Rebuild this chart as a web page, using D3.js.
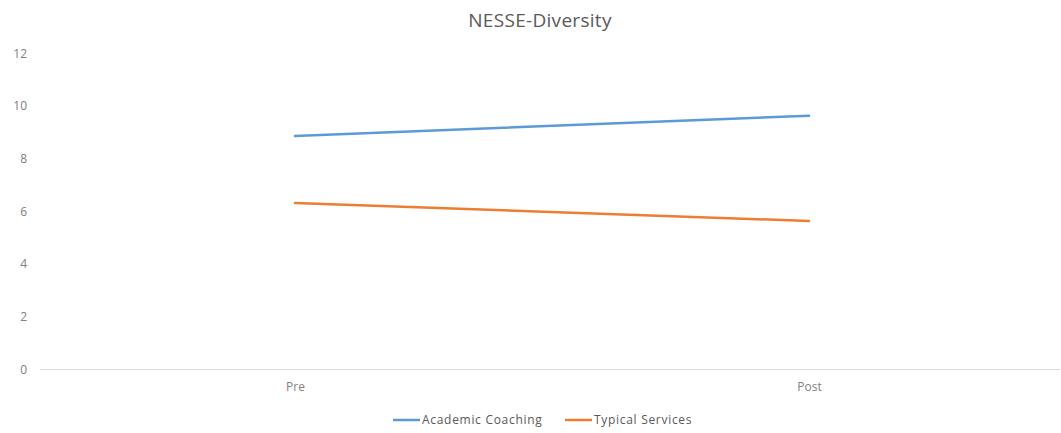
<!DOCTYPE html>
<html><head><meta charset="utf-8">
<script src="https://cdn.jsdelivr.net/npm/d3@7/dist/d3.min.js"></script>
<style>body{margin:0;background:#fff}svg{display:block}</style>
</head><body>
<svg id="c" width="1061" height="433"></svg>
<script>
const categories = ["Pre", "Post"];
const seriesNames = ["Academic Coaching", "Typical Services"];
const academicCoaching = [8.85, 9.62];
const typicalServices = [6.3, 5.62];
const yTicks = [0, 2, 4, 6, 8, 10, 12];
const title = "NESSE-Diversity";

const colors = ["#5B9BD5", "#ED7D31"];
const font = "'Open Sans', 'Liberation Sans', sans-serif";
const svg = d3.select("#c");
const x = d3.scalePoint().domain(categories).range([38, 1066]).padding(0.5);
const y = d3.scaleLinear().domain([0, 12]).range([369, 53]);

svg.append("text").attr("x", 540).attr("y", 27).attr("text-anchor", "middle")
  .attr("font-family", font).attr("font-size", 19).attr("letter-spacing", "0.3px")
  .attr("fill", "#595959").text(title);

const ya = svg.append("g").attr("transform", "translate(27,0)")
  .call(d3.axisLeft(y).tickValues(yTicks).tickSize(0).tickPadding(0));
ya.select(".domain").remove();
ya.selectAll("text").attr("font-family", font).attr("font-size", 12).attr("fill", "#808080").attr("dy", "0.35em");

const xa = svg.append("g").attr("transform", "translate(0,369)")
  .call(d3.axisBottom(x).tickSize(0).tickPadding(13));
xa.select(".domain").attr("stroke", "#d9d9d9").attr("d", "M40,0.5H1060");
xa.selectAll("text").attr("font-family", font).attr("font-size", 12).attr("fill", "#808080");

const series = [academicCoaching, typicalServices];
const line = d3.line().x((d, i) => x(categories[i])).y(d => y(d));
series.forEach((s, k) => {
  svg.append("path").datum(s).attr("d", line).attr("fill", "none")
    .attr("stroke", colors[k]).attr("stroke-width", 2.5).attr("stroke-linecap", "round");
});

const legendX = [393, 565];
seriesNames.forEach((n, k) => {
  const g = svg.append("g").attr("transform", `translate(${legendX[k]},420)`);
  g.append("line").attr("x1", 0).attr("x2", 27).attr("y1", 0).attr("y2", 0)
    .attr("stroke", colors[k]).attr("stroke-width", 2.5);
  g.append("text").attr("x", 29).attr("y", 0).attr("dy", "0.35em")
    .attr("font-family", font).attr("font-size", 12).attr("letter-spacing", "0.7px")
    .attr("fill", "#595959").text(n);
});
</script>
</body></html>
